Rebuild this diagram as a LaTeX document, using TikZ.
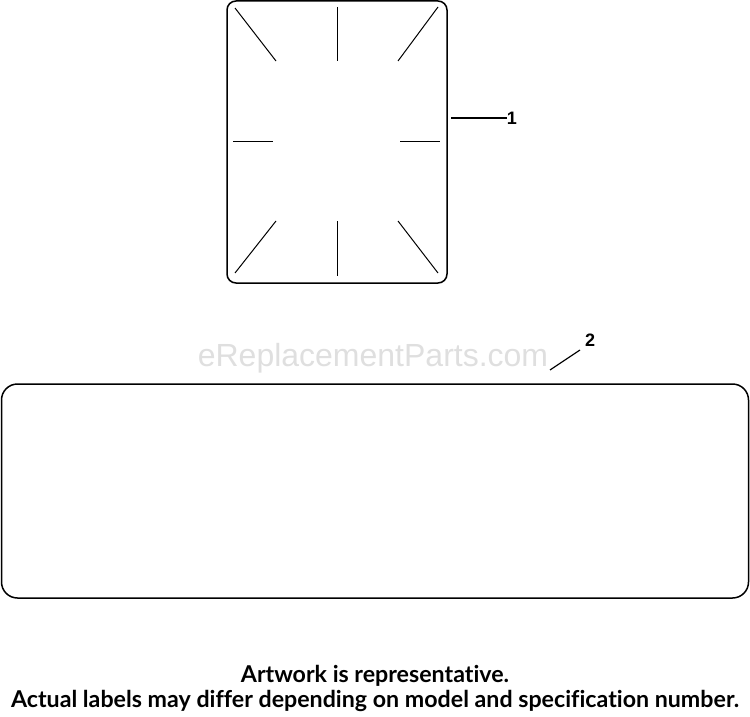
\documentclass[tikz,border=0pt]{standalone}
\usepackage{fontspec}
\setmainfont{Lato}[Ligatures=NoCommon]
\newfontfamily\calloutfont{Liberation Sans}
\usetikzlibrary{positioning}
\tikzstyle{decal}=[draw, line width=1.5pt, inner sep=0pt]
\tikzstyle{tick}=[line width=1pt]
\tikzstyle{leader}=[line width=1.2pt]
\tikzstyle{callout}=[inner sep=0pt, font=\calloutfont\bfseries\fontsize{18}{18}\selectfont]

\begin{document}
\begin{tikzpicture}[x=1pt, y=-1pt]
    \useasboundingbox (0,0) rectangle (750,717);

    \node[decal, rounded corners=9pt, minimum width=220pt, minimum height=282pt] (decal1) at (337, 142) {};
    \node[decal, rounded corners=16pt, minimum width=747pt, minimum height=214pt] (decal2) at (375, 491) {};

    % Ticks
    \draw[tick] (235,8) -- (276,61);
    \draw[tick] (337,7) -- (337,61);
    \draw[tick] (438,7) -- (398,61);
    \draw[tick] (233,141) -- (273,141);
    \draw[tick] (400,141) -- (440,141);
    \draw[tick] (276,221) -- (235,273);
    \draw[tick] (337,221) -- (337,276);
    \draw[tick] (398,221) -- (438,273);

    \node[text=gray!25, font=\calloutfont\fontsize{32}{32}\selectfont, inner sep=0pt] (mark) at (373, 358) {eReplacementParts.com};

    % Callouts
    \node[callout] (c1) at (512, 118) {1};
    \node[callout] (c2) at (590, 340) {2};
    \coordinate (s1) at (451, 118);
    \coordinate (s2) at (550, 370);
    \coordinate (e2) at (580, 350);
    \draw[leader] (s1) -- (s1 -| c1.west);
    \draw[leader] (s2) -- (e2);

    \node[align=center, font=\bfseries\fontsize{23.2}{25}\selectfont, inner sep=0pt] (note) at (375, 688) {Artwork is representative.\\Actual labels may differ depending on model and specification number.};
\end{tikzpicture}
\end{document}
